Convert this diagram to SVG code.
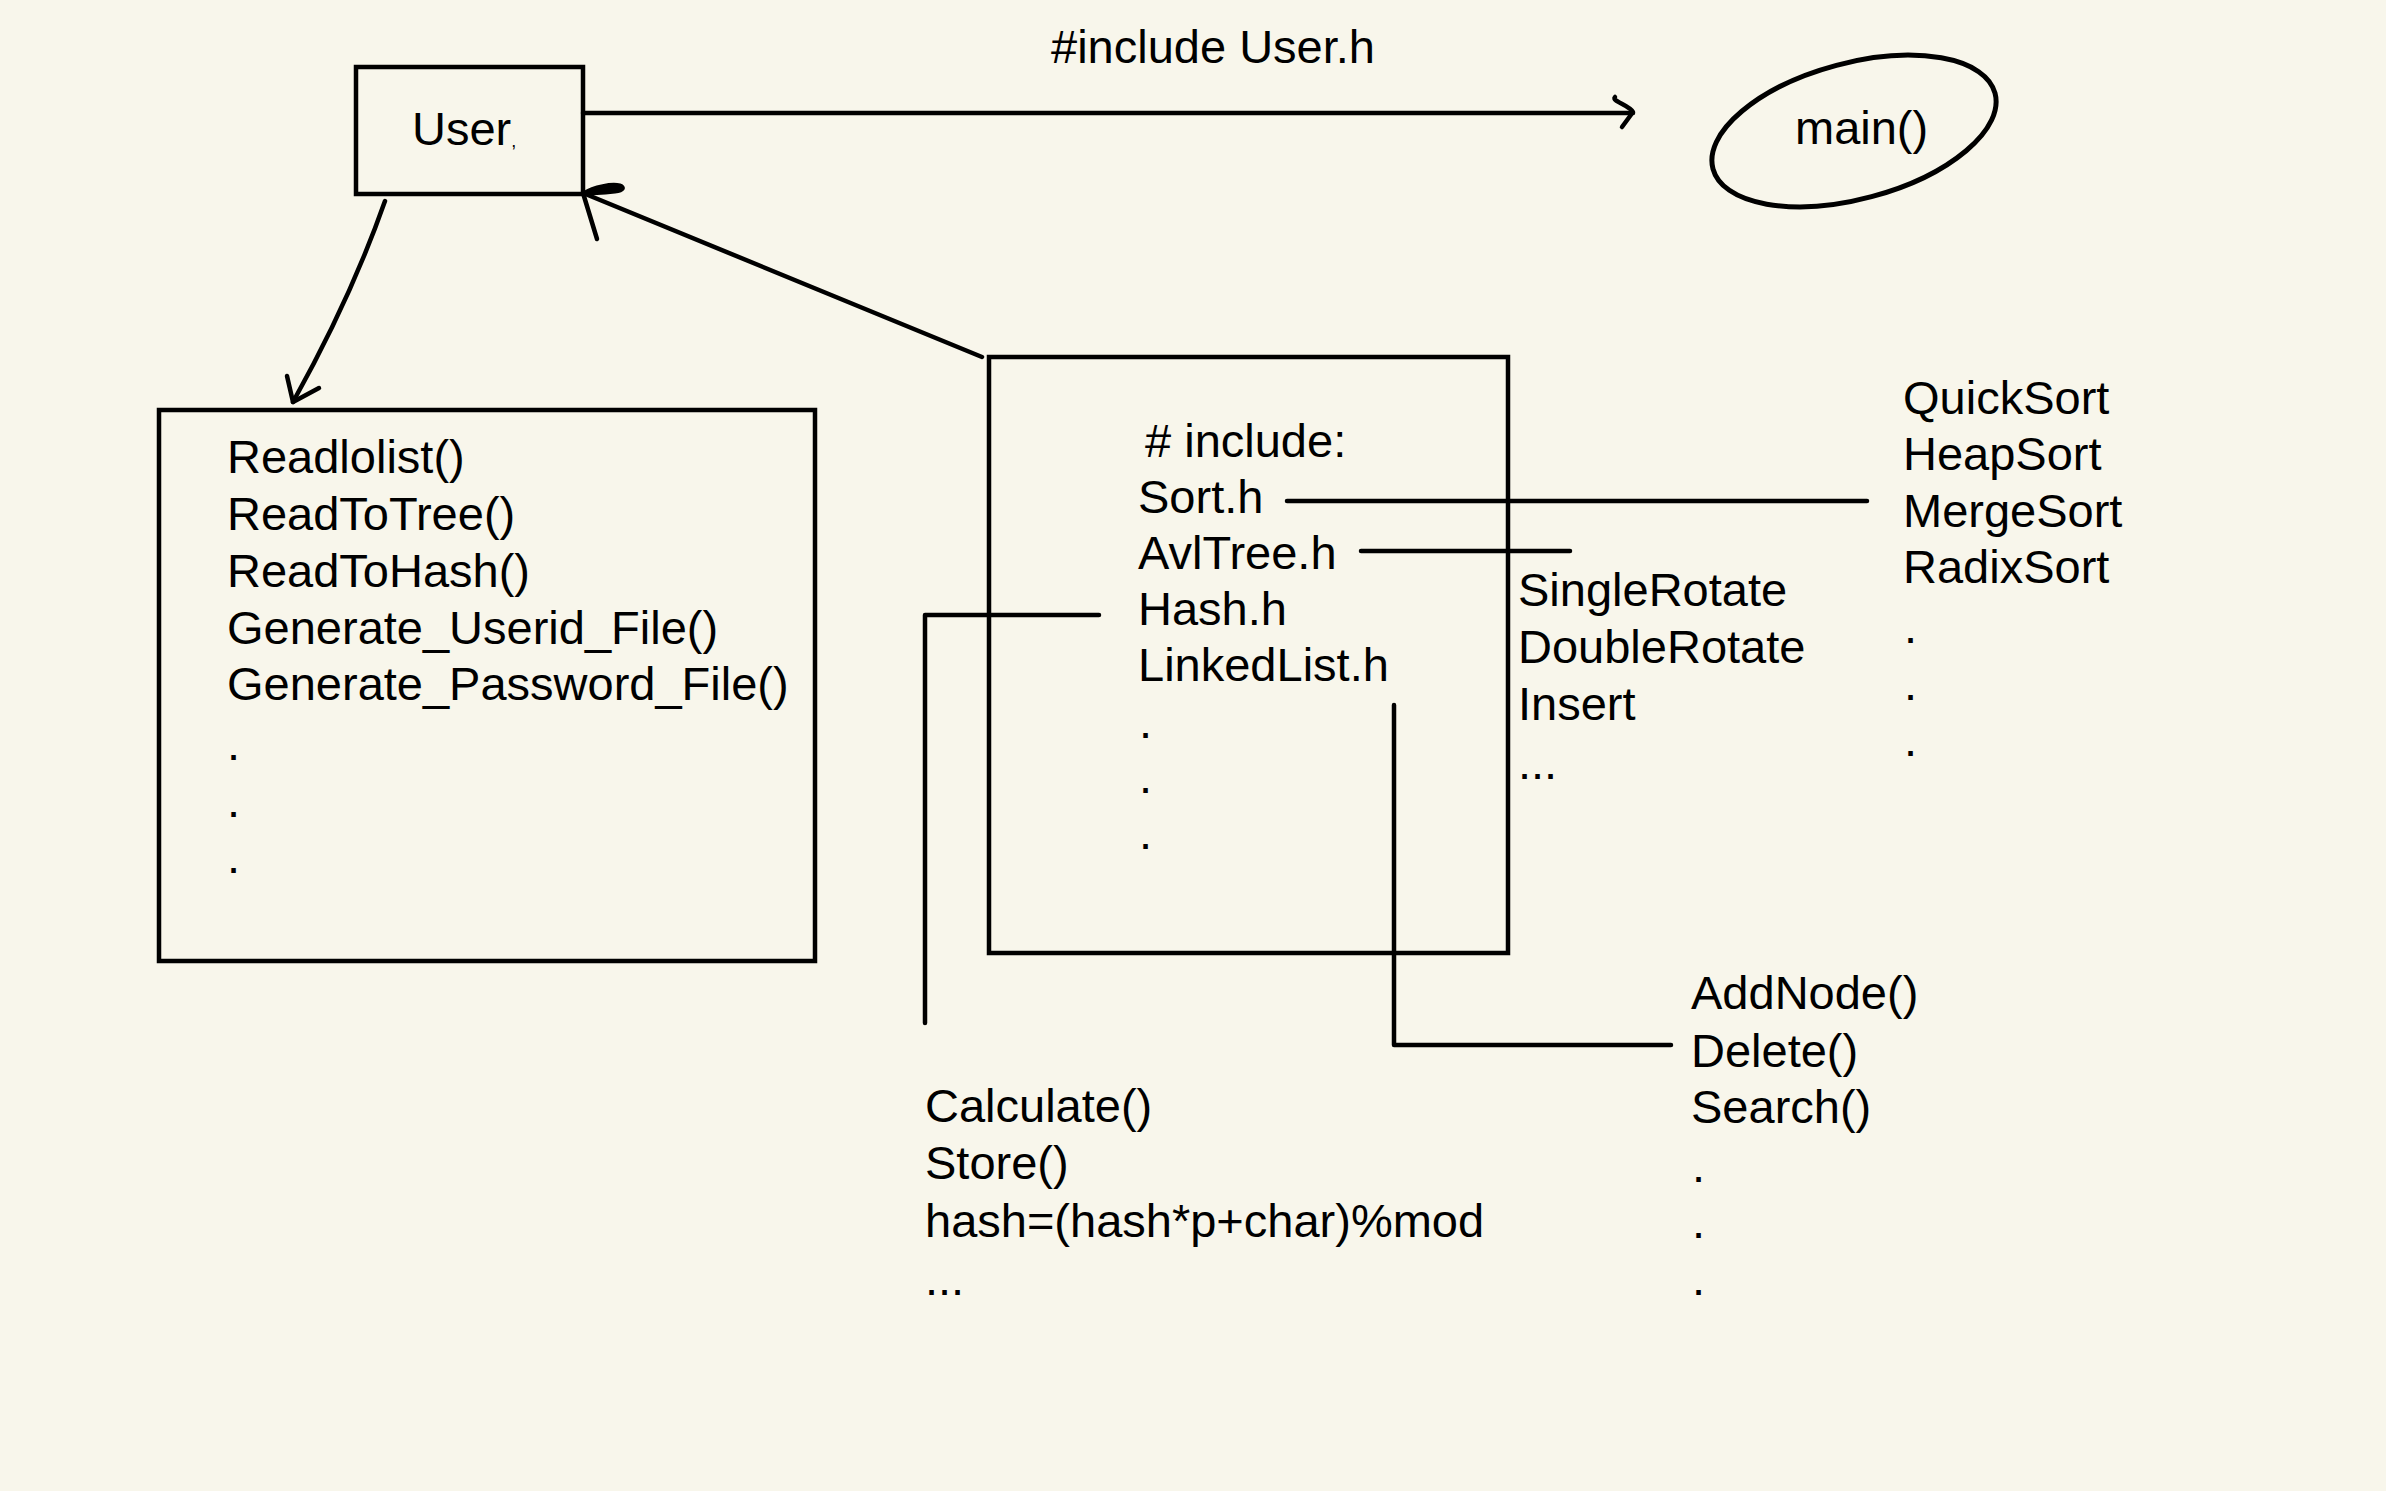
<svg xmlns="http://www.w3.org/2000/svg" width="2386" height="1491" viewBox="0 0 2386 1491">
<style>
.t{font-family:"Liberation Sans",Arial,Helvetica,sans-serif;font-size:47px;fill:#000}
.box{fill:none;stroke:#000;stroke-width:4.5}
.ln{fill:none;stroke:#000;stroke-width:4.5;stroke-linecap:round;stroke-linejoin:round}
</style>
<rect x="0" y="0" width="2386" height="1491" fill="#f8f6eb"/>

<g id="user">
<rect class="box" x="356" y="67" width="227" height="127"/>
<text class="t" x="412" y="145">User<tspan font-size="18" dy="2">,</tspan></text>
</g>

<g id="main">
<ellipse class="box" cx="1854" cy="131" rx="146" ry="68" transform="rotate(-15 1854 131)" style="stroke-width:5"/>
<text class="t" x="1795" y="144">main()</text>
</g>

<g id="user-functions">
<rect class="box" x="159" y="410" width="656" height="551"/>
<text class="t" x="227" y="473">Readlolist()</text>
<text class="t" x="227" y="530">ReadToTree()</text>
<text class="t" x="227" y="587">ReadToHash()</text>
<text class="t" x="227" y="644">Generate_Userid_File()</text>
<text class="t" x="227" y="700">Generate_Password_File()</text>
<text class="t" x="227" y="760">.</text>
<text class="t" x="227" y="817">.</text>
<text class="t" x="227" y="873">.</text>
</g>

<g id="includes">
<rect class="box" x="989" y="357" width="519" height="596"/>
<text class="t" x="1145" y="457"># include:</text>
<text class="t" x="1138" y="513">Sort.h</text>
<text class="t" x="1138" y="569">AvlTree.h</text>
<text class="t" x="1138" y="625">Hash.h</text>
<text class="t" x="1138" y="681">LinkedList.h</text>
<text class="t" x="1139" y="738">.</text>
<text class="t" x="1139" y="793">.</text>
<text class="t" x="1139" y="849">.</text>
</g>

<g id="sort-functions">
<text class="t" x="1903" y="414">QuickSort</text>
<text class="t" x="1903" y="470">HeapSort</text>
<text class="t" x="1903" y="527">MergeSort</text>
<text class="t" x="1903" y="583">RadixSort</text>
<text class="t" x="1904" y="643">.</text>
<text class="t" x="1904" y="700">.</text>
<text class="t" x="1904" y="756">.</text>
</g>

<g id="avltree-functions">
<text class="t" x="1518" y="606">SingleRotate</text>
<text class="t" x="1518" y="663">DoubleRotate</text>
<text class="t" x="1518" y="720">Insert</text>
<text class="t" x="1518" y="779">...</text>
</g>

<g id="hash-functions">
<text class="t" x="925" y="1122">Calculate()</text>
<text class="t" x="925" y="1179">Store()</text>
<text class="t" x="925" y="1237">hash=(hash*p+char)%mod</text>
<text class="t" x="925" y="1295">...</text>
</g>

<g id="linkedlist-functions">
<text class="t" x="1691" y="1009">AddNode()</text>
<text class="t" x="1691" y="1067">Delete()</text>
<text class="t" x="1691" y="1123">Search()</text>
<text class="t" x="1692" y="1182">.</text>
<text class="t" x="1692" y="1238">.</text>
<text class="t" x="1692" y="1295">.</text>
</g>

<g id="connectors">
<text class="t" x="1051" y="63">#include User.h</text>
<path class="ln" d="M583,113 L1633,113"/>
<path class="ln" d="M1615,97 C1611,101 1629,105 1633,112 L1622,127"/>
<path class="ln" d="M385,201 Q351,298 293,402"/>
<path class="ln" d="M287,376 L293,402 L319,388"/>
<path class="ln" d="M982,357 L583,193"/>
<path class="ln" d="M597,239 L583,193"/>
<path d="M583,193 C594,186 612,183 620,185 C626,187 624,191 615,192 C605,193 594,194 583,194 Z" fill="#000" stroke="#000" stroke-width="3" stroke-linejoin="round"/>
<path class="ln" d="M1287,501 L1867,501"/>
<path class="ln" d="M1361,551 L1570,551"/>
<path class="ln" d="M1099,615 L925,615 L925,1023"/>
<path class="ln" d="M1394,705 L1394,1045 L1671,1045"/>
</g>
</svg>
